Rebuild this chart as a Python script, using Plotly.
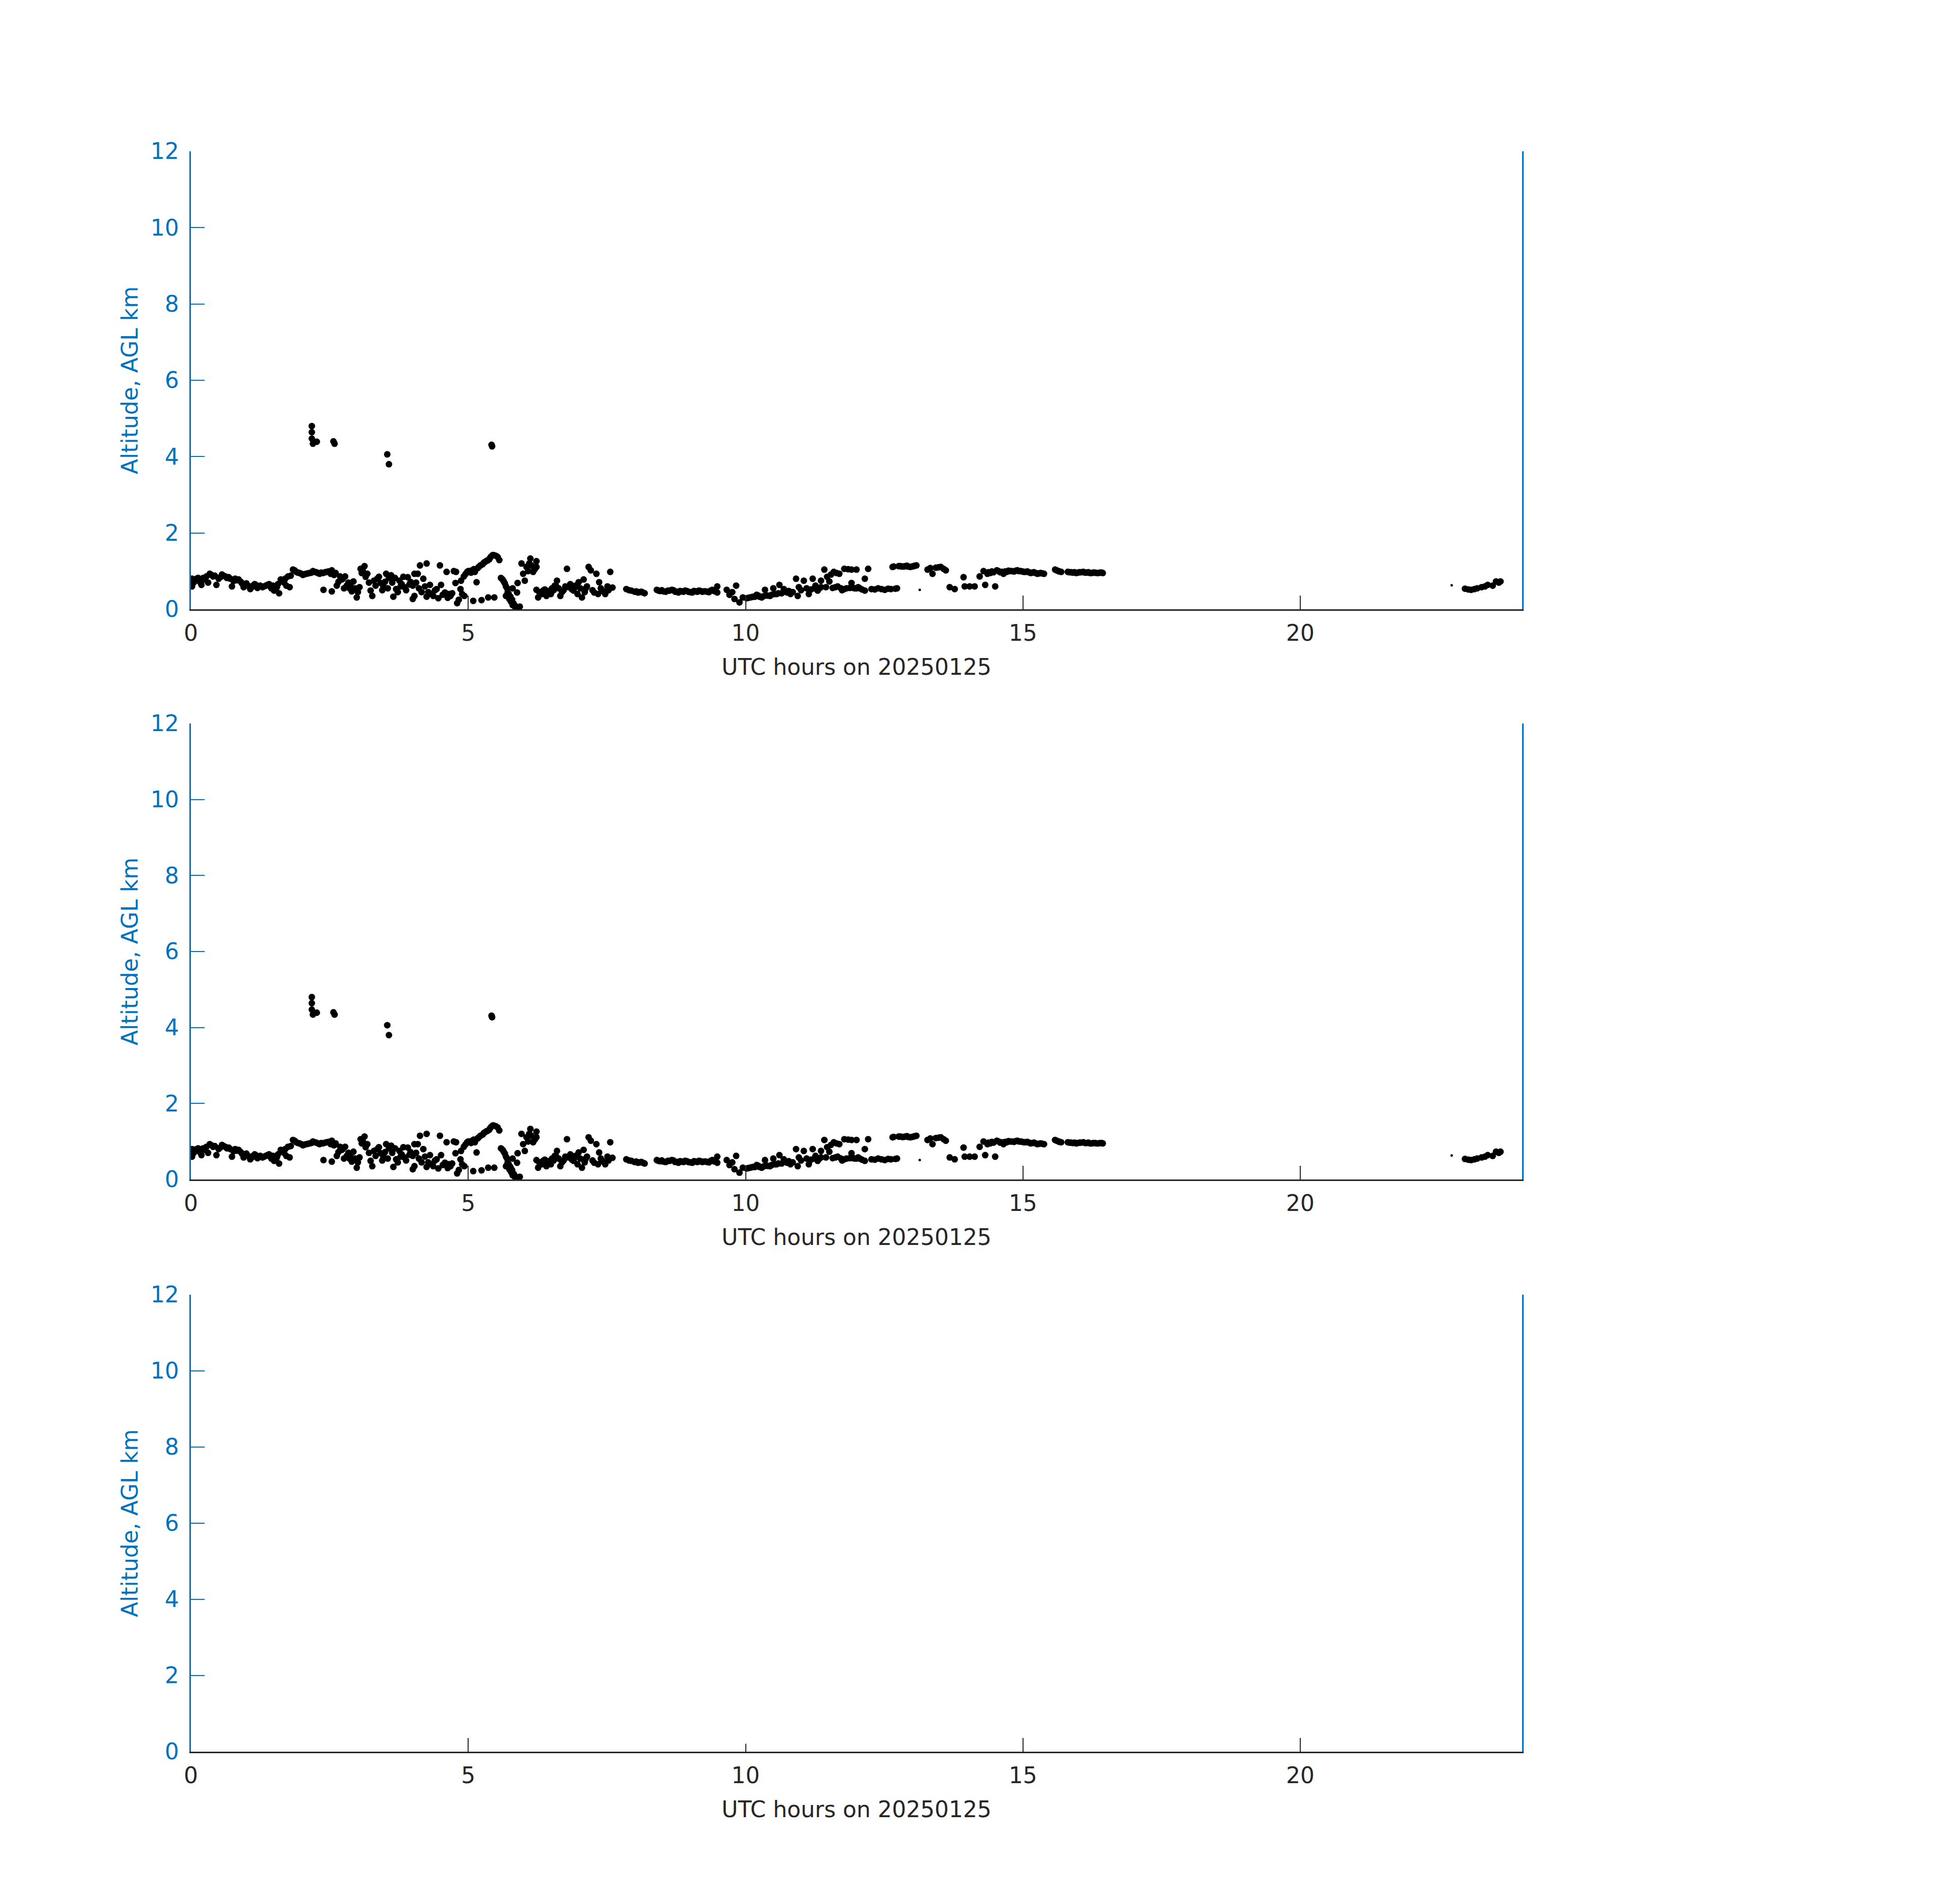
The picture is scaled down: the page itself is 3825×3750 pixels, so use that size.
import plotly.graph_objects as go

# ---- data (UTC hours, altitude AGL km) ----
utc_hours = [
    0.02, 0.02, 0.08, 0.13, 0.19, 0.25, 0.34, 0.40, 0.46, 0.50, 0.56, 0.62, 0.68, 0.74, 0.80, 0.86,
    0.90, 0.95, 1.00, 1.07, 1.12, 1.17, 1.22, 1.29, 1.35, 1.41, 1.45, 1.50, 1.55, 1.59, 1.62, 1.68,
    1.75, 1.78, 1.84, 1.90, 1.96, 2.02, 2.08, 2.14, 2.20, 2.26, 2.32, 2.38, 2.39, 2.45, 2.50, 2.54,
    2.54, 2.58, 2.63, 2.69, 2.74, 2.78, 2.81, 2.86, 2.90, 2.93, 2.99, 3.04, 3.06, 3.10, 3.13, 3.18,
    3.24, 3.27, 3.30, 3.36, 3.42, 3.47, 3.52, 3.57, 3.61, 3.65, 3.70, 3.76, 3.80, 3.85, 3.91, 3.96,
    4.00, 4.00, 4.03, 4.03, 4.09, 4.13, 4.19, 4.25, 4.25, 4.31, 4.34, 4.43, 4.46, 4.49, 4.51, 4.58,
    4.61, 4.65, 4.71, 4.74, 4.77, 4.78, 4.80, 4.86, 4.87, 4.92, 4.98, 5.03, 5.07, 5.09, 5.12, 5.15,
    5.19, 5.24, 5.28, 5.33, 5.36, 5.38, 5.41, 5.44, 5.47, 5.50, 5.53, 5.56, 5.59, 5.64, 5.68, 5.68,
    5.71, 5.74, 5.77, 5.80, 5.80, 5.83, 5.86, 5.88, 5.89, 5.93, 5.96, 5.99, 6.02, 6.05, 6.08, 6.12,
    6.17, 6.20, 6.23, 6.23, 6.23, 6.26, 6.30, 6.35, 6.41, 6.46, 6.51, 6.56, 6.60, 6.66, 6.72, 6.78,
    6.84, 6.90, 6.95, 6.99, 7.05, 7.08, 7.12, 7.17, 7.21, 7.27, 7.31, 7.36, 7.42, 7.47, 7.51, 7.56,
    7.60, 7.85, 7.90, 7.94, 8.00, 8.06, 8.12, 8.18, 8.40, 8.46, 8.52, 8.60, 8.67, 8.73, 8.79, 8.85,
    8.91, 8.97, 9.04, 9.10, 9.16, 9.22, 9.28, 9.34, 9.40, 9.45, 9.49, 9.49, 9.66, 9.71, 9.76, 9.80,
    9.83, 9.89, 9.95, 10.02, 10.08, 10.14, 10.20, 10.25, 10.29, 10.35, 10.40, 10.44, 10.50, 10.56, 10.61, 10.65,
    10.69, 10.75, 10.81, 10.91, 10.94, 10.96, 11.05, 11.10, 11.14, 11.21, 11.26, 11.30, 11.36, 11.36, 11.42, 11.47,
    11.51, 11.54, 11.59, 11.64, 11.66, 11.69, 11.74, 11.78, 11.78, 11.85, 11.91, 11.91, 11.97, 12.00, 12.03, 12.06,
    12.10, 12.15, 12.15, 12.21, 12.27, 12.33, 12.39, 12.45, 12.51, 12.57, 12.62, 12.65, 12.70, 12.73, 12.76, 12.82,
    12.88, 12.93, 12.97, 13.03, 13.08, 13.28, 13.33, 13.37, 13.43, 13.48, 13.52, 13.57, 13.61, 13.68, 13.77, 13.93,
    13.95, 14.04, 14.13, 14.22, 14.29, 14.32, 14.36, 14.41, 14.47, 14.50, 14.53, 14.59, 14.65, 14.71, 14.77, 14.84,
    14.90, 14.96, 15.02, 15.08, 15.14, 15.20, 15.26, 15.32, 15.38, 15.58, 15.64, 15.69, 15.81, 15.87, 15.96, 16.02,
    16.09, 16.15, 16.21, 16.27, 16.33, 16.39, 16.44,
    2.18, 2.18, 2.18, 2.20, 2.27, 2.57, 2.59, 3.54, 3.57, 5.42, 5.43,
    22.97, 23.03, 23.08, 23.14, 23.19, 23.27, 23.33, 23.38, 23.47, 23.53, 23.58, 23.61,
]
altitude_km = [
    0.80, 0.60, 0.76, 0.82, 0.64, 0.78, 0.93, 0.86, 0.64, 0.80, 0.91, 0.86, 0.84, 0.60, 0.80, 0.78,
    0.72, 0.58, 0.68, 0.53, 0.62, 0.64, 0.60, 0.58, 0.62, 0.66, 0.55, 0.49, 0.58, 0.42, 0.78, 0.70,
    0.86, 0.58, 1.04, 0.98, 0.95, 0.90, 0.93, 0.95, 1.00, 0.97, 0.93, 0.95, 0.51, 0.98, 0.97, 1.02,
    0.47, 0.90, 0.62, 0.86, 0.80, 0.86, 0.62, 0.55, 0.47, 0.73, 0.31, 0.58, 1.06, 1.00, 1.13, 0.93,
    0.49, 0.35, 0.75, 0.80, 0.69, 0.60, 0.93, 0.82, 0.89, 0.33, 0.53, 0.75, 0.66, 0.58, 0.84, 0.72,
    0.27, 0.62, 0.93, 0.35, 0.93, 1.15, 0.80, 1.20, 0.33, 0.64, 0.40, 0.53, 0.29, 1.15, 0.64, 0.44,
    0.98, 0.40, 0.42, 1.00, 0.69, 0.98, 0.16, 0.53, 0.75, 0.86, 0.98, 1.00, 1.02, 0.22, 0.98, 0.71,
    1.11, 0.24, 1.22, 1.27, 0.31, 1.31, 1.38, 1.42, 0.31, 1.40, 1.37, 1.29, 0.82, 0.73, 0.60, 0.35,
    0.44, 0.27, 0.20, 0.11, 0.55, 0.08, 0.04, 0.44, 0.69, 0.07, 1.20, 0.93, 0.75, 1.11, 1.00, 1.33,
    0.98, 1.05, 1.26, 1.11, 0.51, 0.31, 0.42, 0.49, 0.35, 0.45, 0.55, 0.62, 0.75, 0.35, 0.50, 1.06,
    0.66, 0.49, 0.60, 0.71, 0.31, 0.78, 0.55, 1.11, 1.02, 0.44, 0.93, 0.71, 0.49, 0.40, 0.60, 0.98,
    0.57, 0.53, 0.50, 0.49, 0.46, 0.44, 0.46, 0.42, 0.51, 0.48, 0.47, 0.49, 0.51, 0.46, 0.44, 0.47,
    0.49, 0.46, 0.44, 0.47, 0.49, 0.46, 0.47, 0.45, 0.51, 0.47, 0.44, 0.60, 0.51, 0.38, 0.45, 0.27,
    0.62, 0.18, 0.31, 0.29, 0.31, 0.33, 0.38, 0.33, 0.31, 0.51, 0.36, 0.35, 0.55, 0.40, 0.64, 0.42,
    0.53, 0.44, 0.40, 0.80, 0.35, 0.58, 0.75, 0.55, 0.40, 0.80, 0.62, 0.49, 0.75, 0.58, 1.04, 0.85,
    0.73, 0.91, 0.98, 0.95, 0.60, 0.93, 0.50, 1.06, 0.53, 1.05, 1.04, 0.69, 0.55, 1.04, 0.58, 0.55,
    0.52, 0.49, 0.80, 1.06, 0.53, 0.52, 0.55, 0.53, 0.51, 0.54, 0.53, 1.11, 0.54, 0.55, 1.13, 1.12,
    1.13, 1.12, 1.11, 1.13, 1.15, 1.04, 1.08, 0.93, 1.09, 1.10, 1.11, 1.06, 1.02, 0.58, 0.53, 0.84,
    0.60, 0.60, 0.60, 0.86, 1.00, 0.64, 0.93, 0.95, 0.97, 0.60, 1.02, 0.97, 0.93, 0.98, 1.00, 0.99,
    1.02, 1.00, 0.98, 0.99, 0.95, 0.97, 0.93, 0.95, 0.93, 1.04, 1.00, 0.98, 0.98, 0.97, 0.95, 0.97,
    0.98, 0.96, 0.95, 0.96, 0.95, 0.96, 0.95,
    4.80, 4.64, 4.47, 4.34, 4.39, 4.40, 4.34, 4.06, 3.80, 4.31, 4.27,
    0.54, 0.52, 0.51, 0.53, 0.55, 0.58, 0.60, 0.64, 0.62, 0.73, 0.70, 0.73,
]
# further retrievals read along the dense parts of the layer
extra_hours = [
    0.05, 0.10, 0.16, 0.22, 0.28, 0.31, 0.37, 0.43, 0.53, 0.59, 0.65, 0.71, 0.77, 0.83, 0.92, 0.98,
    1.03, 1.10, 1.15, 1.20, 1.25, 1.32, 1.38, 1.43, 1.48, 1.53, 1.57, 1.65, 1.70, 1.72, 1.80, 1.87,
    1.93, 1.99, 2.05, 2.11, 2.17, 2.23, 2.29, 2.35, 2.42, 2.48, 2.52,
    2.61, 2.66, 2.72, 2.76, 2.84, 2.88, 2.96, 3.01, 3.08, 3.15, 3.21, 3.33, 3.39, 3.45, 3.50, 3.55,
    3.63, 3.68, 3.73, 3.78, 3.83, 3.88, 3.94,
    4.06, 4.11, 4.16, 4.22, 4.28, 4.37, 4.40, 4.54, 4.63, 4.68, 4.83, 4.89, 4.93,
    4.95, 5.00, 5.05, 5.10, 5.17, 5.22, 5.26, 5.30, 5.35, 5.39, 5.46, 5.62, 5.66, 5.70, 5.73, 5.76,
    5.79, 5.82, 5.84,
    6.10, 6.14, 6.19, 6.28, 6.33, 6.38, 6.44, 6.49, 6.54, 6.58, 6.63, 6.69, 6.75, 6.81, 6.87, 6.93,
    6.97, 7.02, 7.10, 7.14, 7.24, 7.34, 7.39, 7.45, 7.53,
    8.03, 8.09, 8.15, 8.43, 8.49, 8.56, 8.63, 8.70, 8.76, 8.82, 8.88, 8.94, 9.00, 9.07, 9.13, 9.19,
    9.25, 9.31, 9.37, 9.43,
    10.05, 10.11, 10.17, 10.23, 10.32, 10.38, 10.47, 10.53, 10.59, 10.72, 10.78, 10.85, 11.00, 11.18, 11.24, 11.33,
    11.45, 11.57, 11.62, 11.72, 11.82, 11.88, 11.94, 12.00,
    12.67, 12.79, 12.85, 12.91, 13.00, 13.05,
    14.38, 14.44, 14.56, 14.62, 14.68, 14.74, 14.80, 14.87, 14.93, 14.99, 15.05, 15.11, 15.17, 15.23, 15.29, 15.35,
    15.61, 15.66, 15.84, 15.90, 15.93, 15.99, 16.05, 16.12, 16.18, 16.24, 16.30, 16.36, 16.42,
]
extra_alt = [
    0.70, 0.80, 0.72, 0.82, 0.86, 0.70, 0.90, 0.88, 0.84, 0.88, 0.82, 0.80, 0.74, 0.76, 0.68, 0.64,
    0.62, 0.58, 0.66, 0.56, 0.62, 0.60, 0.64, 0.60, 0.62, 0.52, 0.66, 0.74, 0.80, 0.62, 0.88, 1.02,
    0.96, 0.93, 0.92, 0.94, 0.96, 0.98, 0.95, 0.96, 0.97, 0.99, 0.93,
    0.95, 0.72, 0.78, 0.55, 0.70, 0.60, 0.55, 0.45, 0.95, 0.85, 0.70, 0.62, 0.85, 0.50, 0.72, 0.55,
    0.70, 0.82, 0.45, 0.60, 0.85, 0.50, 0.65,
    0.70, 0.55, 0.45, 0.60, 0.45, 0.35, 0.50, 0.38, 0.30, 0.35, 0.25, 0.40, 0.35,
    0.92, 1.00, 0.96, 1.05, 1.08, 1.15, 1.18, 1.24, 1.28, 1.34, 1.42, 0.78, 0.68, 0.55, 0.40, 0.33,
    0.25, 0.15, 0.10,
    1.20, 1.15, 1.05, 0.45, 0.40, 0.52, 0.48, 0.40, 0.50, 0.62, 0.55, 0.45, 0.60, 0.58, 0.52, 0.62,
    0.40, 0.55, 0.45, 0.60, 0.50, 0.40, 0.55, 0.45, 0.50,
    0.47, 0.45, 0.44, 0.49, 0.50, 0.46, 0.49, 0.50, 0.46, 0.48, 0.46, 0.48, 0.45, 0.48, 0.46, 0.48,
    0.47, 0.46, 0.49, 0.48,
    0.30, 0.32, 0.33, 0.36, 0.34, 0.36, 0.38, 0.40, 0.42, 0.46, 0.48, 0.45, 0.50, 0.52, 0.55, 0.55,
    0.58, 0.56, 0.58, 0.55, 0.55, 0.56, 0.56, 0.55,
    1.12, 1.13, 1.12, 1.14, 1.12, 1.14,
    0.97, 0.99, 1.00, 0.98, 0.99, 1.01, 1.00, 1.01, 1.00, 0.99, 0.98, 0.97, 0.96, 0.95, 0.94, 0.94,
    1.02, 0.99, 0.97, 0.96, 0.97, 0.96, 0.97, 0.96, 0.97, 0.95, 0.96, 0.95, 0.96,
]
small_hours = [13.14, 22.73]
small_alt = [0.51, 0.63]

x_ticks = [0, 5, 10, 15, 20]
y_ticks = [0, 2, 4, 6, 8, 10, 12]
x_title = "UTC hours on 20250125"
y_title = "Altitude, AGL km"

BLUE = "#0072BD"
DARK = "#262626"
FONT = "DejaVu Sans"

W, H = 3825, 3750
OFF = 8  # page body offset
x_dom = [(376 - OFF) / W, (2998 - OFF) / W]
panels = [(298 - OFF, 1200 - OFF), (1425 - OFF, 2323 - OFF), (2550 - OFF, 3450 - OFF)]

all_hours = utc_hours + extra_hours
all_alt = altitude_km + extra_alt

fig = go.Figure()
for i, (top, bot) in enumerate(panels):
    n = i + 1
    color = "black" if i < 2 else "white"
    xa = "x" if n == 1 else f"x{n}"
    ya = "y" if n == 1 else f"y{n}"
    fig.add_trace(go.Scatter(x=all_hours, y=all_alt, mode="markers",
                             marker=dict(color=color, size=13, line=dict(width=0)),
                             xaxis=xa, yaxis=ya, showlegend=False, hoverinfo="skip"))
    fig.add_trace(go.Scatter(x=small_hours, y=small_alt, mode="markers",
                             marker=dict(color=color, size=5, line=dict(width=0)),
                             xaxis=xa, yaxis=ya, showlegend=False, hoverinfo="skip"))
    layer = "above traces" if i < 2 else "below traces"
    xkey = "xaxis" if n == 1 else f"xaxis{n}"
    ykey = "yaxis" if n == 1 else f"yaxis{n}"
    fig.update_layout(**{
        xkey: dict(domain=x_dom, anchor=ya, range=[0, 24], tickvals=x_ticks,
                   ticks="inside", ticklen=27, tickwidth=2, tickcolor=DARK,
                   showline=True, linecolor=DARK, linewidth=2.5, mirror=False,
                   showgrid=False, zeroline=False, layer=layer,
                   tickfont=dict(family=FONT, size=44, color=DARK), ticklabelstandoff=6,
                   title=dict(text=x_title, font=dict(family=FONT, size=44, color=DARK), standoff=28),
                   automargin=False),
        ykey: dict(domain=[1 - bot / H, 1 - top / H], anchor=xa, range=[0, 12], tickvals=y_ticks,
                   ticks="inside", ticklen=27, tickwidth=2, tickcolor=BLUE,
                   showline=True, linecolor=BLUE, linewidth=2.5, mirror=True,
                   showgrid=False, zeroline=False, layer=layer,
                   tickfont=dict(family=FONT, size=44, color=BLUE), ticklabelstandoff=12,
                   title=dict(text=y_title, font=dict(family=FONT, size=44, color=BLUE), standoff=12),
                   automargin=False),
    })

fig.update_layout(width=W, height=H, margin=dict(l=0, r=0, t=0, b=0),
                  paper_bgcolor="white", plot_bgcolor="white",
                  font=dict(family=FONT))
fig.write_html("out.html")
